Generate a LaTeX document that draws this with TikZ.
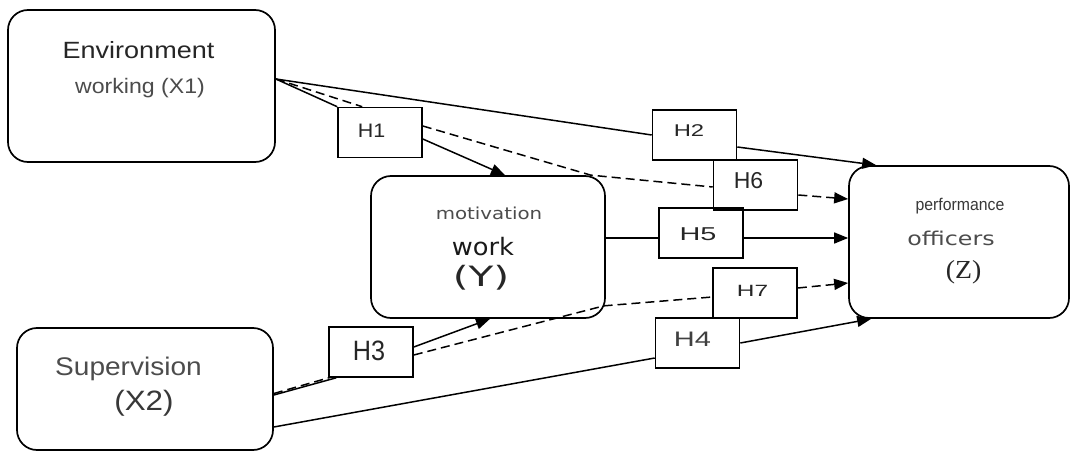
\documentclass[tikz,border=0pt]{standalone}
\usepackage{fontspec}
\usepackage{graphicx}
\setmainfont{Liberation Sans}
\newfontfamily\dejavu{DejaVu Sans}
\newfontfamily\lserif{Liberation Serif}
\usetikzlibrary{arrows.meta,calc}

\newcommand{\fsz}[1]{\fontsize{#1}{#1}\selectfont}
\newcommand{\wide}[2]{\scalebox{#1}[1]{#2}}

\tikzset{
  varbox/.style={draw=black, line width=1.7pt, rounded corners=20pt, inner sep=0pt},
  hbox/.style={draw=black, line width=1.6pt, inner sep=0pt, minimum width=84pt, minimum height=50pt},
  lbl/.style={inner sep=0pt, anchor=base},
  link/.style={line width=1.5pt, black},
  dlink/.style={link, dash pattern=on 9pt off 5pt},
  tip/.style={-{Triangle[length=14pt,width=11pt]}}
}

\begin{document}
\begin{tikzpicture}[x=1pt, y=-1pt]
\useasboundingbox (0,0) rectangle (1071,452);
\fill[white] (0,0) rectangle (1071,452);

% variable boxes
\node[varbox, minimum width=267pt, minimum height=152pt] (X1) at (141.5,86) {};
\node[varbox, minimum width=256pt, minimum height=122pt] (X2) at (145,389) {};
\node[varbox, minimum width=234pt, minimum height=142pt] (Y) at (488,247) {};
\node[varbox, minimum width=220pt, minimum height=152pt] (Z) at (959,242) {};

% hypothesis boxes
\node[hbox] (H1) at (380,132.5) {};
\node[hbox] (H2) at (694.5,135) {};
\node[hbox] (H6) at (755.5,185) {};
\node[hbox] (H5) at (701,233) {};
\node[hbox] (H7) at (755,293) {};
\node[hbox] (H4) at (697.5,343) {};
\node[hbox] (H3) at (371,352) {};

% box texts
\node[lbl, text=black!85] (tX1a) at (138.5,58.3) {\fsz{23.5}\wide{1.15}{Environment}};
\node[lbl, text=black!70] (tX1b) at (140,93.3) {\fsz{21}\wide{1.1}{working (X1)}};
\node[lbl, text=black!70] (tX2a) at (128.5,375) {\fsz{25.5}\wide{1.1}{Supervision}};
\node[lbl, text=black!78] (tX2b) at (144,410) {\fsz{28}\wide{1.12}{(X2)}};
\node[lbl, text=black!70] (tYa) at (489,219) {\dejavu\fsz{16.5}\wide{1.2}{motivation}};
\node[lbl, text=black!90] (tYb) at (483,255) {\dejavu\fsz{24}\wide{1.07}{work}};
\node[lbl, text=black!85] (tYc) at (481,286) {\dejavu\fsz{28}\wide{1.45}{(Y)}};
\node[lbl, text=black!78] (tZa) at (960,210.7) {\fsz{17}\wide{0.93}{performance}};
\node[lbl, text=black!70] (tZb) at (951,245) {\dejavu\fsz{19}\wide{1.25}{officers}};
\node[lbl, text=black!85] (tZc) at (963.5,278.3) {\lserif\fsz{26}\wide{1.07}{(Z)}};

% hypothesis labels
\node[lbl, text=black!85] (tH1) at (371.5,137.3) {\fsz{19.5}\wide{1.1}{H1}};
\node[lbl, text=black!85] (tH2) at (689,136.7) {\fsz{17}\wide{1.4}{H2}};
\node[lbl, text=black!85] (tH6) at (748.5,188.3) {\fsz{23}H6};
\node[lbl, text=black!85] (tH5) at (698,240) {\fsz{18.6}\wide{1.55}{H5}};
\node[lbl, text=black!85] (tH7) at (752.5,296.7) {\fsz{16.3}\wide{1.5}{H7}};
\node[lbl, text=black!75] (tH4) at (692.5,346.7) {\fsz{21}\wide{1.38}{H4}};
\node[lbl, text=black!85] (tH3) at (369,360) {\fsz{28}\wide{0.9}{H3}};

% connection points
\coordinate (x1o) at ($(X1.east)+(0,-7)$);
\coordinate (x2o) at ($(X2.east)+(0,6)$);
\coordinate (x2p) at ($(X2.east)+(0,38)$);
\coordinate (yTR) at ($(Y.north east)+(-15,0)$);
\coordinate (yBR) at ($(Y.south east)+(-2,-13)$);
\coordinate (m5) at ($(H5.west)+(0,5)$);
\coordinate (n5) at ($(H5.east)+(0,5)$);

% environment -> motivation (H1) and indirect path (H6)
\draw[link] (x1o) -- (H1.north west);
\draw[dlink] (x1o) -- ($(H1.north west)+(25,0)$);
\draw[link, tip] ($(H1.east)+(0,6.5)$) -- ($(Y.north)+(17,0)$);
\draw[dlink] ($(H1.east)+(0,-6.5)$) -- (yTR) -- ($(H6.west)+(0,2)$);
\draw[dlink, tip] ($(H6.east)+(0,10)$) -- ($(Z.west)+(0,-43)$);

% environment -> performance (H2)
\draw[link] (x1o) -- (H2.west);
\draw[link, tip] ($(H2.east)+(0,12)$) -- ($(Z.north west)+(28,0)$);

% motivation -> performance (H5)
\draw[link] (Y.east |- m5) -- (m5);
\draw[link, tip] (n5) -- (Z.west |- n5);

% supervision -> motivation (H3) and indirect path (H7)
\draw[link] (x2o) -- ($(H3.south west)+(8,0)$);
\draw[dlink] ($(x2o)+(0,-1.5)$) -- ($(H3.south west)+(4,-1)$);
\draw[link, tip] ($(H3.east)+(0,-5)$) -- ($(Y.south)+(2,0)$);
\draw[dlink] ($(H3.east)+(0,3)$) -- (yBR) -- ($(H7.west)+(0,4)$);
\draw[dlink, tip] ($(H7.east)+(0,-5)$) -- ($(Z.west)+(0,41)$);

% supervision -> performance (H4)
\draw[link] (x2p) -- ($(H4.west)+(0,15)$);
\draw[link, tip] (H4.east) -- ($(Z.south west)+(23,0)$);
\end{tikzpicture}
\end{document}
